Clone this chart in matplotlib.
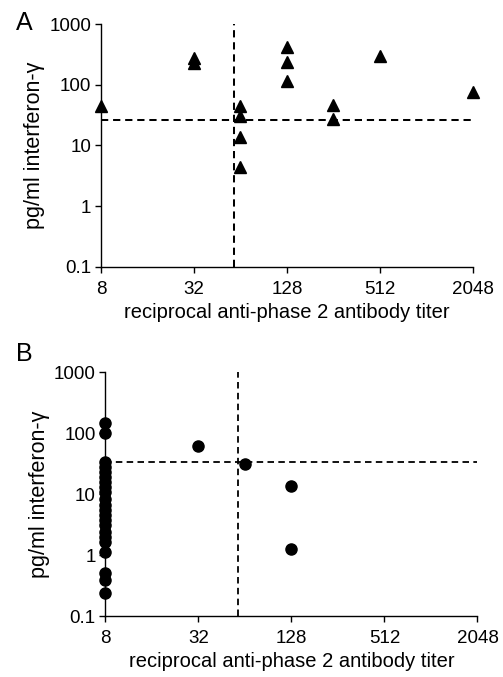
import matplotlib
matplotlib.use('Agg')
import matplotlib.pyplot as plt

plt.rcParams['font.family'] = ['Liberation Sans', 'DejaVu Sans']

# panel A: triangles
a_titer = [8, 32, 32, 64, 64, 64, 64, 128, 128, 128, 256, 256, 512, 2048]
a_ifn = [44, 275, 232, 44, 30, 14, 4.4, 420, 236, 116, 46, 27.5, 296, 76]
a_cut_titer = 58
a_cut_ifn = 26

# panel B: circles
b_titer = [8] * 22 + [32, 64, 128, 128]
b_ifn = [147, 99, 33.7, 28, 23, 19.2, 15.9, 13.2, 10.9, 8.2, 6.6, 5.5, 4.5,
         3.75, 3.1, 2.4, 2.0, 1.65, 1.13, 0.5, 0.39, 0.24,
         62, 30.5, 13.5, 1.24]
b_cut_titer = 58
b_cut_ifn = 34

xticks = [8, 32, 128, 512, 2048]
yticks = [0.1, 1, 10, 100, 1000]
ylabels = ['0.1', '1', '10', '100', '1000']

fig = plt.figure(figsize=(5.03, 6.77), dpi=100)
axA = fig.add_axes([0.2008, 0.606, 0.739, 0.3585])
axB = fig.add_axes([0.2093, 0.0901, 0.740, 0.3604])

dash = (0, (3.6, 2.4))


def style(ax):
    ax.set_xscale('log', base=2)
    ax.set_yscale('log')
    ax.set_xlim(8, 2048)
    ax.set_ylim(0.1, 1000)
    ax.set_xticks(xticks)
    ax.set_xticklabels([str(t) for t in xticks])
    ax.set_yticks(yticks)
    ax.set_yticklabels(ylabels)
    ax.minorticks_off()
    for s in ['top', 'right']:
        ax.spines[s].set_visible(False)
    for s in ['left', 'bottom']:
        ax.spines[s].set_linewidth(1.0)
    ax.tick_params(labelsize=13.5, length=4, width=1.0)
    ax.tick_params(axis='x', pad=6)
    ax.tick_params(axis='y', pad=3)
    ax.set_xlabel('reciprocal anti-phase 2 antibody titer', fontsize=14.5, labelpad=4)
    ax.set_ylabel('pg/ml interferon-γ', fontsize=15.5, labelpad=3)


style(axA)
axA.plot(a_titer, a_ifn, '^', color='black', ms=8, clip_on=False, zorder=3)
axA.axhline(a_cut_ifn, color='black', ls=dash, lw=1.45, zorder=2)
axA.axvline(a_cut_titer, color='black', ls=dash, lw=1.45, zorder=2)
fig.text(0.032, 0.966, 'A', fontsize=18, va='center', ha='left')

style(axB)
axB.plot(b_titer, b_ifn, 'o', color='black', ms=8, clip_on=False, zorder=3)
axB.axhline(b_cut_ifn, color='black', ls=dash, lw=1.3, zorder=2)
axB.axvline(b_cut_titer, color='black', ls=dash, lw=1.3, zorder=2)
fig.text(0.032, 0.477, 'B', fontsize=18, va='center', ha='left')

fig.savefig('out.png', dpi=100)
